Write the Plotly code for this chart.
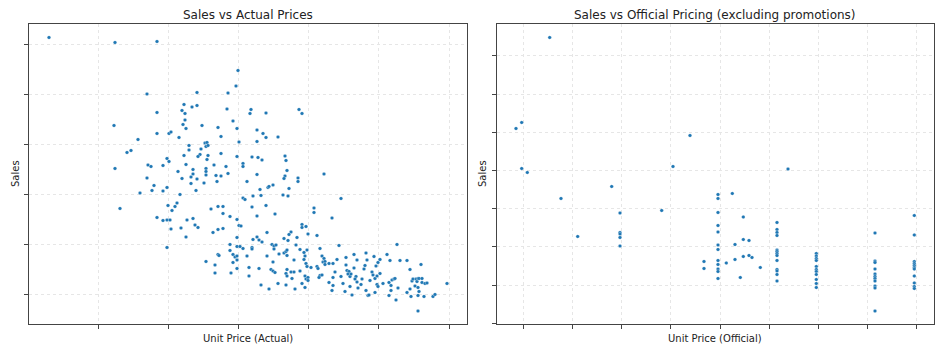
import plotly.graph_objects as go

# ---------------- data ----------------
price_actual = [21, 87, 129, 210, 208, 169, 200, 119, 156, 164, 169, 129, 154, 157, 199, 223, 222, 238, 271, 274,
                86, 157, 155, 158, 174, 205, 190, 209, 129, 141, 143, 193, 229, 235, 238, 250, 229, 110, 151, 161,
                161, 177, 179, 178, 180, 173, 211, 99, 103, 156, 172, 170, 180, 193, 179, 209, 224, 230, 234, 257,
                258, 139, 141, 120, 123, 135, 158, 186, 198, 215, 215, 87, 165, 178, 178, 150, 165, 178, 188, 193,
                200, 229, 259, 296, 257, 119, 154, 163, 169, 270, 256,
                270, 219, 176, 163, 168, 152, 126, 124, 135, 139, 112, 92, 129, 135, 139, 142, 140, 144, 147, 149,
                143, 153, 159, 165, 167, 170, 158, 139, 183, 190, 195, 195, 185, 190, 195, 202, 209, 211, 213, 215,
                217, 225, 233, 232, 240, 241, 245, 224, 238, 229, 247, 255, 260, 261, 286, 286, 313, 304, 209, 239,
                229, 231, 225, 234, 256, 260, 263, 261, 269, 274, 274, 278, 280, 289, 202, 202, 209, 212, 215, 205,
                207, 209, 209, 205, 209, 203, 178, 190, 191, 187, 187, 219, 221, 221, 224, 224, 231, 233, 241, 239,
                244, 246, 248, 246, 251, 245, 243, 245, 247, 250, 256, 258, 259, 259, 259, 258, 259, 258, 263, 264,
                266, 266, 267, 272, 276, 279, 277, 276, 278, 279, 272, 277, 278, 280, 280, 274, 277, 283, 289, 290,
                292, 294, 296, 295, 297, 297, 292, 291, 294, 301, 305, 309, 311, 305, 305, 304, 301, 307, 313, 318,
                318, 319, 321, 320, 322, 315, 317, 322, 324, 326, 326, 323, 328, 329, 327, 329, 330, 333, 334, 336,
                337, 338, 339, 338, 340, 341, 342, 344, 346, 345, 347, 348, 349, 349, 347, 350, 352, 352, 350, 355,
                359, 362, 361, 363, 364, 366, 367, 363, 361, 368, 369, 370, 372, 379, 382, 379, 383, 382, 384, 385,
                387, 388, 389, 390, 391, 390, 391, 390, 393, 394, 394, 396, 397, 399, 390, 405, 407, 419, 268, 189]
sales_actual = [613, 603, 605, 547, 516, 503, 502, 500, 479, 474, 477, 463, 467, 461, 470, 469, 461, 462, 469, 461,
                437, 448, 439, 431, 437, 446, 433, 431, 421, 421, 424, 415, 428, 421, 413, 414, 405, 409, 413, 397,
                388, 402, 403, 395, 397, 390, 404, 383, 387, 377, 379, 375, 377, 381, 369, 375, 374, 373, 368, 376,
                367, 371, 365, 358, 355, 357, 359, 358, 355, 361, 355, 351, 349, 351, 345, 345, 340, 338, 337, 336,
                341, 339, 347, 340, 336, 332, 331, 334, 330, 332, 331,
                325, 325, 322, 321, 307, 299, 317, 307, 306, 313, 302, 271, 253, 247, 248, 248, 277, 267, 275, 282,
                230, 232, 248, 251, 238, 233, 214, 193, 270, 275, 275, 261, 223, 229, 231, 255, 249, 237, 236, 292,
                289, 296, 297, 309, 313, 315, 318, 274, 277, 256, 260, 298, 296, 311, 272, 263, 291, 252, 213, 223,
                214, 208, 209, 204, 211, 207, 224, 219, 213, 239, 233, 235, 220, 217, 199, 187, 195, 195, 191, 179,
                174, 176, 168, 163, 151, 142, 165, 179, 177, 158, 142, 176, 153, 136, 193, 190, 151, 118, 110, 176,
                199, 196, 198, 190, 180, 164, 149, 146, 143, 121, 182, 185, 177, 188, 149, 141, 136, 118, 144, 131,
                168, 144, 110, 189, 183, 188, 176, 169, 161, 155, 146, 136, 130, 133, 127, 121, 113, 153, 155, 151,
                191, 176, 171, 164, 165, 159, 137, 133, 138, 161, 161, 169, 197, 133, 117, 107, 123, 144, 135, 173,
                158, 147, 145, 140, 135, 121, 105, 115, 98, 179, 152, 140, 135, 168, 130, 124, 112, 119, 130, 150,
                157, 182, 168, 107, 97, 98, 127, 144, 175, 138, 131, 156, 136, 119, 103, 163, 169, 141, 115, 121,
                179, 167, 123, 117, 128, 130, 131, 107, 97, 88, 199, 112, 167, 167, 149, 103, 95, 110, 126, 130,
                116, 130, 125, 131, 131, 113, 105, 97, 159, 131, 123, 95, 121, 122, 66, 95, 99, 121, 198, 325]

price_official = [52.7, 24.7, 19, 193, 24.7, 30.3, 176, 291, 114.7, 64, 123, 164.7,
                  221, 221, 221, 221, 221, 221, 221, 221, 221, 221, 221, 221,
                  235.3, 246.3, 238, 246.3, 252, 238, 229.3, 246.3, 252, 255, 263.3, 243.3, 207, 207, 80.7,
                  123, 123, 123, 123,
                  280, 280, 280, 280, 280, 280, 280, 280, 280, 280, 280, 280, 280,
                  319.3, 319.3, 319.3, 319.3, 319.3, 319.3, 319.3, 319.3, 319.3, 319.3, 319.3,
                  378, 378, 378, 378, 378, 378, 378, 378, 378, 378, 378,
                  417.3, 417.3, 417.3, 417.3, 417.3, 417.3, 417.3, 417.3, 417.3, 417.3, 417.3]
sales_official = [573, 403, 391, 377, 311, 303, 315, 310, 275, 251, 222, 227,
                  259, 251, 223, 197, 184, 158, 149, 127, 119, 110, 105, 91,
                  261, 214, 159, 169, 167, 129, 122, 135, 137, 133, 113, 93, 125, 111, 175,
                  183, 180, 173, 156,
                  203, 189, 183, 177, 148, 145, 141, 137, 127, 109, 106, 99, 86,
                  141, 136, 131, 127, 115, 109, 105, 99, 89, 81, 73,
                  182, 126, 123, 110, 100, 95, 91, 86, 76, 72, 26,
                  217, 178, 125, 121, 117, 113, 110, 96, 82, 75, 71]

# tick positions (no tick labels are shown in the reference)
x_ticks_actual = [70, 140.2, 210.4, 280.6, 350.8, 421]
y_ticks_actual = [100, 200, 300, 400, 500, 600]
x_ticks_official = [26.3, 75.5, 124.7, 173.8, 223.0, 272.2, 321.4, 370.5, 419.7]
y_ticks_official = [1.4, 77.8, 154.2, 230.6, 307.0, 383.4, 459.8, 536.2]

titles = ["Sales vs Actual Prices", "Sales vs Official Pricing (excluding promotions)"]
x_titles = ["Unit Price (Actual)", "Unit Price (Official)"]
y_title = "Sales"

# ---------------- figure ----------------
W, H = 945, 354
FONT = "DejaVu Sans, Liberation Sans, sans-serif"
MARK = "#1f77b4"

def px_x(p):
    return p / W

def px_y(p):
    return 1 - p / H

fig = go.Figure()
marker = dict(color=MARK, size=3.6, line=dict(color="white", width=0.3))
fig.add_trace(go.Scatter(x=price_actual, y=sales_actual, mode="markers", marker=marker,
                         xaxis="x", yaxis="y", showlegend=False))
fig.add_trace(go.Scatter(x=price_official, y=sales_official, mode="markers", marker=marker,
                         xaxis="x2", yaxis="y2", showlegend=False))

axis_common = dict(showline=True, mirror=True, linecolor="#444", linewidth=1,
                   ticks="outside", ticklen=4, tickcolor="#444", tickwidth=1,
                   showticklabels=False, showgrid=True, gridcolor="#e6e6e6",
                   gridwidth=1, griddash="dot", zeroline=False, fixedrange=True)

fig.update_layout(
    width=W, height=H, margin=dict(l=0, r=0, t=0, b=0, pad=0),
    paper_bgcolor="white", plot_bgcolor="white",
    font=dict(family=FONT, color="#222"),
    xaxis=dict(domain=[px_x(29.3), px_x(467.3)], range=[1.3, 439.3],
               tickmode="array", tickvals=x_ticks_actual, anchor="y", **axis_common),
    yaxis=dict(domain=[px_y(324.3), px_y(24.3)], range=[39.4, 639.4],
               tickmode="array", tickvals=y_ticks_actual, anchor="x", **axis_common),
    xaxis2=dict(domain=[px_x(496.7), px_x(934)], range=[-0.3, 437],
                tickmode="array", tickvals=x_ticks_official, anchor="y2", **axis_common),
    yaxis2=dict(domain=[px_y(324.3), px_y(24.3)], range=[-0.6, 599.4],
                tickmode="array", tickvals=y_ticks_official, anchor="x2", **axis_common),
)

ann = []
centers = [(29.3 + 467.3) / 2, (496.7 + 934) / 2]
for c, t, xt in zip(centers, titles, x_titles):
    ann.append(dict(text=t, x=px_x(c), y=px_y(15.5), xref="paper", yref="paper",
                    xanchor="center", yanchor="middle", showarrow=False,
                    font=dict(size=12, family=FONT, color="#222")))
    ann.append(dict(text=xt, x=px_x(c), y=px_y(338), xref="paper", yref="paper",
                    xanchor="center", yanchor="middle", showarrow=False,
                    font=dict(size=10, family=FONT, color="#222")))
for xc in (15, 482):
    ann.append(dict(text=y_title, x=px_x(xc), y=px_y(174), xref="paper", yref="paper",
                    xanchor="center", yanchor="middle", showarrow=False, textangle=-90,
                    font=dict(size=10, family=FONT, color="#222")))
fig.update_layout(annotations=ann)

fig.write_html("out.html", config={"displayModeBar": False})
